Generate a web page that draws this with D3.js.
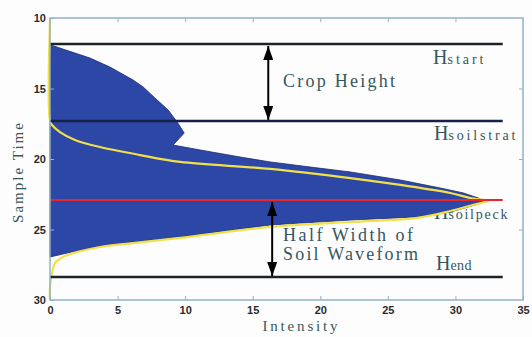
<!DOCTYPE html>
<html>
<head>
<meta charset="utf-8">
<script src="https://cdn.jsdelivr.net/npm/d3@7"></script>
<style>
  body { margin: 0; background: #fdfdfd; }
  svg { display: block; }
</style>
</head>
<body>
<svg></svg>
<script>
// chart size
const width = 532;
const height = 337;
const margin = { top: 18, right: 9, bottom: 37, left: 50 };

// tick values
const xTicks = [0, 5, 10, 15, 20, 25, 30, 35];
const yTicks = [10, 15, 20, 25, 30];

// blue waveform area: upper edge then lower edge [intensity, sample time]
const upperEdge = [
  [0, 11.9], [2.96, 12.84], [4.44, 13.48], [6.15, 14.40], [6.89, 14.89],
  [7.93, 15.82], [8.74, 16.52], [9.41, 17.38], [9.93, 18.16], [9.11, 19.01],
  [11.11, 19.36], [14.07, 19.86], [16.30, 20.21], [19.26, 20.57], [22.22, 20.92],
  [25.93, 21.49], [28.89, 22.06], [30.59, 22.41], [31.70, 22.77], [32.15, 22.98]
];
const lowerEdge = [
  [31.70, 23.19], [29.63, 23.76], [27.19, 24.11], [22.22, 24.33], [16.30, 24.68],
  [9.63, 25.53], [6.15, 25.89], [3.70, 26.17], [1.26, 26.67], [0, 26.95]
];

// yellow fitted curve
const fitCurve = [
  [0, 10], [0, 17.30], [0.15, 17.59], [0.74, 18.09], [1.85, 18.65], [3.70, 19.15],
  [6.67, 19.72], [9.63, 20.21], [16.30, 20.70], [22.22, 21.35], [25.93, 21.84],
  [29.63, 22.41], [31.11, 22.77], [32.4, 22.98], [31.26, 23.26], [29.63, 23.69],
  [27.19, 24.18], [22.22, 24.47], [16.30, 24.82], [9.63, 25.60], [6.15, 25.96],
  [3.70, 26.24], [2.00, 26.60], [0.96, 26.95], [0.37, 27.38], [0.15, 28.09],
  [0, 29.08], [0, 30]
];

// horizontal marker lines
const markerNames = ["start", "soilstrat", "soilpeck", "end"];
const markerTimes = [11.84, 17.30, 22.91, 28.37];
const markerEnd = 33.5;

// arrows [x, from, to]
const cropArrow = [16.15, 11.84, 17.30];
const halfArrow = [16.44, 22.91, 28.37];

const svg = d3.select("svg")
  .attr("width", width)
  .attr("height", height);

const x = d3.scaleLinear()
  .domain([0, 35])
  .range([margin.left, width - margin.right]);

const y = d3.scaleLinear()
  .domain([10, 30])
  .range([margin.top, height - margin.bottom]);

const frameColor = "#8fb2c8";
const textColor = "#35565f";
const lineColor = "#1c2429";

// arrow marker
svg.append("defs").append("marker")
  .attr("id", "head")
  .attr("viewBox", "0 0 14 10")
  .attr("refX", 14)
  .attr("refY", 5)
  .attr("markerUnits", "userSpaceOnUse")
  .attr("markerWidth", 14)
  .attr("markerHeight", 10)
  .attr("orient", "auto-start-reverse")
  .append("path")
  .attr("d", "M0,0 L14,5 L0,10 Z")
  .attr("fill", "#000");

const labelFont = "'Liberation Serif', 'DejaVu Serif', serif";
function hLabel(sub, hx, baseline, subLen) {
  const t = svg.append("text")
    .attr("x", hx)
    .attr("y", baseline)
    .attr("font-family", labelFont)
    .attr("fill", textColor);
  t.append("tspan")
    .attr("font-size", 20)
    .text("H");
  t.append("tspan")
    .attr("font-size", 14)
    .attr("textLength", subLen)
    .attr("lengthAdjust", "spacing")
    .text(sub);
}
// soilpeck label sits under the blue tip
hLabel("soilpeck", 434, 219, 59);

// blue area
const area = upperEdge.concat(lowerEdge);
svg.append("path")
  .datum(area)
  .attr("d", d3.line().x(d => x(d[0])).y(d => y(d[1])).curve(d3.curveLinearClosed))
  .attr("fill", "#2c47a6")
  .attr("stroke", "#1b2c70")
  .attr("stroke-width", 0.8);

// yellow curve
svg.append("path")
  .datum(fitCurve)
  .attr("d", d3.line().x(d => x(d[0])).y(d => y(d[1])).curve(d3.curveCatmullRom))
  .attr("fill", "none")
  .attr("stroke", "#f1e04a")
  .attr("stroke-width", 2.2);

// marker lines
markerTimes.forEach((t, i) => {
  svg.append("line")
    .attr("x1", x(0))
    .attr("x2", x(markerEnd))
    .attr("y1", y(t))
    .attr("y2", y(t))
    .attr("stroke", markerNames[i] === "soilpeck" ? "#e8262c" : (markerNames[i] === "soilstrat" ? "#17204a" : lineColor))
    .attr("stroke-width", markerNames[i] === "soilpeck" ? 2 : 2.5);
});

// arrows
[cropArrow, halfArrow].forEach(a => {
  svg.append("line")
    .attr("x1", x(a[0]))
    .attr("x2", x(a[0]))
    .attr("y1", y(a[1]) + 2)
    .attr("y2", y(a[2]) - 1)
    .attr("stroke", "#000")
    .attr("stroke-width", 2)
    .attr("marker-start", "url(#head)")
    .attr("marker-end", "url(#head)");
});

// other labels
hLabel("start", 433, 64, 36);
hLabel("soilstrat", 434, 140, 67);
hLabel("end", 436, 270, 21);

const noteFont = "'Liberation Serif', 'DejaVu Serif', serif";
[["Crop Height", 87, 112], ["Half Width of", 241, 130], ["Soil Waveform", 260, 135]].forEach(n => {
  svg.append("text")
    .attr("x", 283)
    .attr("y", n[1])
    .attr("font-family", noteFont)
    .attr("font-size", 18)
    .attr("fill", textColor)
    .attr("textLength", n[2])
    .attr("lengthAdjust", "spacing")
    .text(n[0]);
});

// frame
svg.append("rect")
  .attr("x", x(0))
  .attr("y", y(10))
  .attr("width", x(35) - x(0))
  .attr("height", y(30) - y(10))
  .attr("fill", "none")
  .attr("stroke", frameColor)
  .attr("stroke-width", 1.5);

// axes
function styleAxis(g) {
  g.select(".domain").remove();
  g.selectAll(".tick line").attr("stroke", frameColor);
  g.selectAll("text")
    .attr("font-family", "'Liberation Sans', Arial, sans-serif")
    .attr("font-weight", "bold")
    .attr("font-size", 11)
    .attr("fill", "#2a2a2a");
}

svg.append("g")
  .attr("transform", `translate(0, ${y(30)})`)
  .call(d3.axisBottom(x).tickValues(xTicks).tickSizeInner(-4).tickSizeOuter(0).tickPadding(6))
  .call(styleAxis);

svg.append("g")
  .attr("transform", `translate(0, ${y(10)})`)
  .call(d3.axisTop(x).tickValues(xTicks.slice(1, -1)).tickSizeInner(-4).tickSizeOuter(0).tickFormat(""))
  .call(styleAxis);

svg.append("g")
  .attr("transform", `translate(${x(0)}, 0)`)
  .call(d3.axisLeft(y).tickValues(yTicks).tickSizeInner(-4).tickSizeOuter(0).tickPadding(4))
  .call(styleAxis);

svg.append("g")
  .attr("transform", `translate(${x(35)}, 0)`)
  .call(d3.axisRight(y).tickValues(yTicks.slice(1, -1)).tickSizeInner(-4).tickSizeOuter(0).tickFormat(""))
  .call(styleAxis);

// axis titles
svg.append("text")
  .attr("x", 300)
  .attr("y", 331)
  .attr("text-anchor", "middle")
  .attr("font-family", noteFont)
  .attr("font-size", 15)
  .attr("fill", textColor)
  .attr("textLength", 75)
  .attr("lengthAdjust", "spacing")
  .text("Intensity");

svg.append("text")
  .attr("transform", "translate(23, 173) rotate(-90)")
  .attr("text-anchor", "middle")
  .attr("font-family", noteFont)
  .attr("font-size", 15)
  .attr("fill", textColor)
  .attr("textLength", 100)
  .attr("lengthAdjust", "spacing")
  .text("Sample Time");
</script>
</body>
</html>
